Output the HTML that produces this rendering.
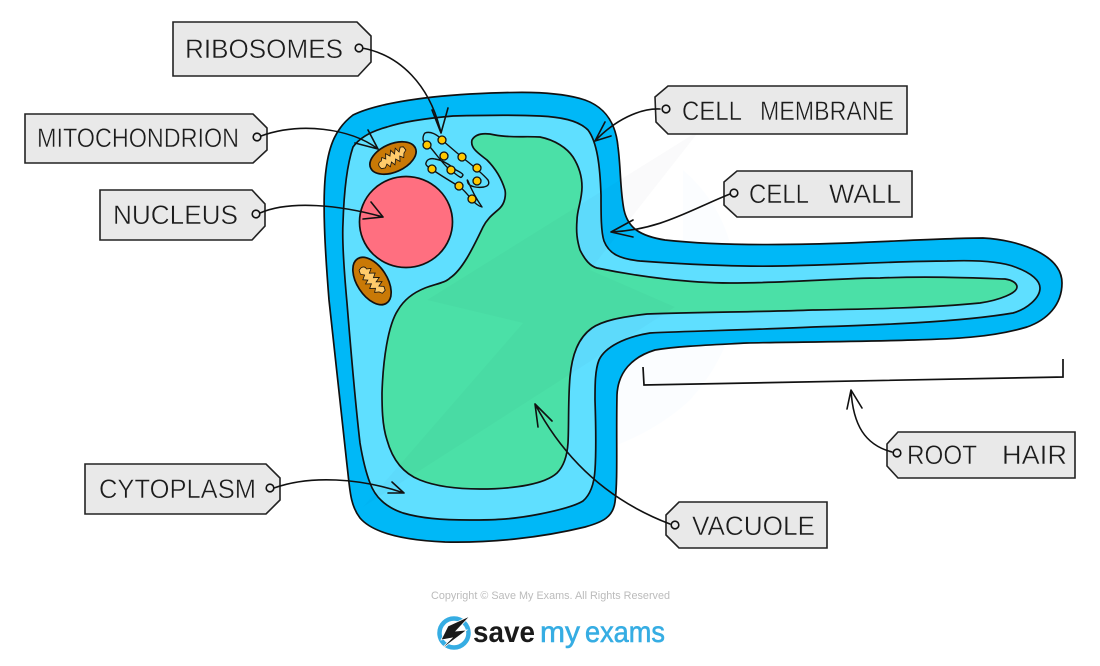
<!DOCTYPE html>
<html><head><meta charset="utf-8"><style>
html,body{margin:0;padding:0;background:#fff}
svg{display:block}
.t{font-family:"Liberation Sans",sans-serif;font-size:27px;fill:#1c1c1c;stroke:#e9e9e9;stroke-width:.45px;white-space:pre}
.tag{fill:#e9e9e9;stroke:#222;stroke-width:1.6}
.ln{fill:none;stroke:#111;stroke-width:1.7}
.c{fill:none;stroke:#111;stroke-width:1.6;stroke-linecap:round;stroke-linejoin:round}
.h{fill:#e9e9e9;stroke:#111;stroke-width:1.6}
.d{fill:#ffc800;stroke:#111;stroke-width:1.3}
</style></head><body>
<svg width="1100" height="666" viewBox="0 0 1100 666" xmlns="http://www.w3.org/2000/svg">
<rect width="1100" height="666" fill="#fff"/>
<path d="M683 170 Q735 215 737 290 Q735 350 690 400 Q660 428 617 445 L617 370 L683 300Z" fill="#fbfdff"/>
<path d="M353 115 C375 104,420 97,470 94 C510 92,555 90,585 100 C607 108,616 125,618 147 C621 170,620 190,624 210 C628 228,640 236,665 240 C710 245,770 245,813 244 C870 243,940 238,983 238 C1020 240,1062 255,1062 283 C1062 305,1047 320,1027 327 C990 338,950 339,913 340 C850 342,790 342,747 343 C710 345,680 346,655 350 C632 357,618 372,617 395 C616 440,618 480,615 502 C613 517,603 522,585 527 C540 538,490 543,445 542 C400 540,372 532,360 518 C350 505,350 490,347 465 C340 400,333 340,329 300 C325 250,322 200,326 170 C329 145,336 128,353 115Z" fill="#00b8f7" stroke="#111" stroke-width="1.7"/>
<path d="M387 127 C405 121,430 118,453 116 C490 115,520 115,540 116 C560 117,578 120,588 130 C597 142,600 165,601 195 C601 215,601 232,604 241 C609 254,620 259,640 261 C680 264,740 267,780 266 C840 265,900 261,947 261 C975 260,1000 261,1015 267 C1032 273,1040 281,1040 288 C1040 298,1027 309,1013 313 C960 322,880 325,813 327 C750 330,690 331,650 333 C625 337,605 347,599 360 C595 370,595 385,595 400 C596 430,596 455,595 470 C594 485,590 495,583 501 C575 506,560 510,540 514 C510 520,490 520,470 520 C440 520,420 518,403 513 C385 507,375 497,370 483 C365 470,362 455,360 443 C355 400,350 340,347 303 C344 270,342 240,343 223 C344 190,347 165,353 147 C360 137,372 131,387 127Z" fill="#5fdfff" stroke="#111" stroke-width="1.7"/>
<path d="M472 140 C476 133,486 133,495 135 C510 138,525 136,540 137 C555 140,567 148,573 157 C580 168,582 178,582 187 C582 200,577 210,577 220 C576 232,577 240,580 250 C585 260,590 266,597 268 C640 277,690 283,730 283 C790 283,840 278,880 278 C930 276,975 278,1005 279 C1012 280,1017 283,1017 287 C1017 293,1000 300,980 303 C930 308,870 309,813 310 C760 312,700 312,647 314 C620 317,602 321,592 328 C578 338,572 355,570 377 C568 400,569 425,568 443 C567 458,563 467,557 473 C545 484,515 489,480 489 C455 489,435 486,420 480 C402 473,392 458,387 440 C382 425,382 405,382 393 C383 360,388 325,398 310 C405 298,415 292,425 288 C435 284,445 283,450 278 C462 270,472 250,483 227 C488 217,495 213,500 208 C505 203,506 195,505 190 C502 180,497 170,487 160 C478 153,470 148,472 140Z" fill="#4be0a7" stroke="#111" stroke-width="1.7"/>
<polygon points="700,130 427,300 523,323 363,507 675,307 590,270" fill="#00003c" fill-opacity="0.018"/>
<ellipse cx="406" cy="222" rx="46.5" ry="45.5" fill="#ff6f80" stroke="#111" stroke-width="1.7"/>
<g transform="translate(393 158) rotate(-24)">
<ellipse rx="24.5" ry="14" fill="#c97906" stroke="#111" stroke-width="1.7"/>
<path d="M-16 2 Q-16 -2,-12 -2 L-10 -5 L-7 -2 L-5 -7 L-2 -3 L1 -8 L3 -3 L6 -8 L8 -3 L11 -7 L14 -6 L15 -2 L12 0 L10 4 L7 1 L5 6 L2 2 L-1 7 L-3 3 L-6 7 L-8 3 L-11 6 L-15 5Z" fill="#ffcb6b" stroke="#111" stroke-width=".8"/>
</g>
<g transform="translate(372 281) rotate(57)">
<ellipse rx="26.5" ry="15" fill="#c97906" stroke="#111" stroke-width="1.7"/>
<path d="M-17 2 Q-17 -2,-13 -2 L-11 -6 L-8 -2 L-5 -7 L-2 -3 L1 -8 L3 -3 L6 -8 L8 -3 L11 -7 L15 -6 L16 -2 L13 0 L11 4 L8 1 L5 6 L2 2 L-1 7 L-3 3 L-6 7 L-9 3 L-12 6 L-16 5Z" fill="#ffcb6b" stroke="#111" stroke-width=".8"/>
</g>
<path class="c" style="stroke-width:1.4" d="M425 133 C430 131,437 134,442 140 C450 147,456 152,463 158 C472 165,482 173,488 180 C490 184,488 186,484 187 C478 188,470 187,468 183 C467 180,467 179,468 181 C470 186,475 197,482 207 C478 206,475 203,472 200 C468 195,465 191,460 187 C450 181,440 175,433 170 C428 167,425 165,426 163 C427 159,431 158,435 159 C442 160,450 165,456 170 C460 172,463 174,463 175 C462 177,461 178,460 177 C456 175,454 172,450 170 C442 163,437 155,430 147 C427 144,423 142,423 139 C423 136,424 134,425 133Z"/>
<circle class="d" cx="442" cy="140" r="4"/><circle class="d" cx="427" cy="145" r="4"/><circle class="d" cx="444" cy="156" r="4"/><circle class="d" cx="462" cy="157" r="4"/><circle class="d" cx="477" cy="168" r="4"/><circle class="d" cx="432" cy="169" r="4"/><circle class="d" cx="451" cy="170" r="4"/><circle class="d" cx="477" cy="181" r="4"/><circle class="d" cx="459" cy="186" r="4"/><circle class="d" cx="472" cy="199" r="4"/>
<path class="ln" d="M643 367 L644 385 L1063 377 L1063 359" stroke="#333"/>
<!-- tags -->
<polygon class="tag" points="173,22 357,22 371,36 371,62 358,76 173,76"/>
<polygon class="tag" points="25,114 253,114 267,128 267,150 253,163 25,163"/>
<polygon class="tag" points="100,190 252,190 265,204 265,226 252,240 100,240"/>
<polygon class="tag" points="85,464 266,464 280,478 280,500 266,514 85,514"/>
<polygon class="tag" points="655,97 668,86 907,86 907,134 668,134 656,122"/>
<polygon class="tag" points="724,182 737,171 912,171 912,217 737,217 724,205"/>
<polygon class="tag" points="887,444 898,432 1075,432 1075,478 898,478 887,466"/>
<polygon class="tag" points="666,515 679,502 827,502 827,548 679,548 666,535"/>
<text class="t" x="185" y="58" textLength="158" lengthAdjust="spacingAndGlyphs">RIBOSOMES</text>
<text class="t" x="37" y="147" textLength="202" lengthAdjust="spacingAndGlyphs">MITOCHONDRION</text>
<text class="t" x="113" y="224" textLength="125" lengthAdjust="spacingAndGlyphs">NUCLEUS</text>
<text class="t" x="99" y="498" textLength="157" lengthAdjust="spacingAndGlyphs">CYTOPLASM</text>
<text class="t" x="682" y="120" textLength="60" lengthAdjust="spacingAndGlyphs">CELL</text>
<text class="t" x="760" y="120" textLength="134" lengthAdjust="spacingAndGlyphs">MEMBRANE</text>
<text class="t" x="749" y="203" textLength="60" lengthAdjust="spacingAndGlyphs">CELL</text>
<text class="t" x="829" y="203" textLength="72" lengthAdjust="spacingAndGlyphs">WALL</text>
<text class="t" x="907" y="464" textLength="70" lengthAdjust="spacingAndGlyphs">ROOT</text>
<text class="t" x="1002" y="464" textLength="65" lengthAdjust="spacingAndGlyphs">HAIR</text>
<text class="t" x="692" y="535" textLength="123" lengthAdjust="spacingAndGlyphs">VACUOLE</text>
<!-- connectors -->
<path class="c" d="M362 48 C400 55,430 85,441 133 M432 110 L441 133 L448 108"/>
<path class="c" d="M261 136 C300 122,350 128,378 149 M368 130 L378 149 L355 143"/>
<path class="c" d="M260 213 C290 200,340 205,383 217 M371 202 L383 217 L363 219"/>
<path class="c" d="M274 488 C310 475,360 478,404 493 M392 482 L404 493 L388 493"/>
<path class="c" d="M670 524 C620 505,570 470,535 404 M552 421 L535 404 L538 427"/>
<path class="c" d="M660 109 C640 108,615 120,595 141 M605 122 L595 141 L611 136"/>
<path class="c" d="M730 194 C690 210,660 230,611 232 M633 220 L611 232 L633 237"/>
<path class="c" d="M892 452 C865 445,853 425,851 390 M847 409 L851 390 L862 408"/>
<circle class="h" cx="359" cy="48" r="3.8"/><circle class="h" cx="257" cy="137" r="3.8"/><circle class="h" cx="256" cy="214" r="3.8"/><circle class="h" cx="270" cy="488" r="3.8"/><circle class="h" cx="666" cy="109" r="3.8"/><circle class="h" cx="734" cy="193" r="3.8"/><circle class="h" cx="897" cy="453" r="3.8"/><circle class="h" cx="675" cy="525" r="3.8"/>
<!-- footer -->
<text x="431" y="599" font-family="'Liberation Sans',sans-serif" font-size="11" fill="#bbb" textLength="239" lengthAdjust="spacingAndGlyphs">Copyright © Save My Exams. All Rights Reserved</text>
<circle cx="454" cy="633" r="14.5" fill="none" stroke="#36ade3" stroke-width="4.5"/>
<polygon points="470,616 448,626 441,640 452,638 439,651 467,630 456,631" fill="#1a1a1a" stroke="#fff" stroke-width=".8"/>
<text x="473" y="642" font-family="'Liberation Sans',sans-serif" font-weight="bold" font-size="30" fill="#1a1a1a" textLength="62" lengthAdjust="spacingAndGlyphs">save</text>
<text x="540" y="642" font-family="'Liberation Sans',sans-serif" font-size="30" stroke="#36ade3" stroke-width=".6" fill="#36ade3" textLength="40" lengthAdjust="spacingAndGlyphs">my</text>
<text x="585" y="642" font-family="'Liberation Sans',sans-serif" font-size="30" stroke="#36ade3" stroke-width=".6" fill="#36ade3" textLength="80" lengthAdjust="spacingAndGlyphs">exams</text>
</svg>
</body></html>
